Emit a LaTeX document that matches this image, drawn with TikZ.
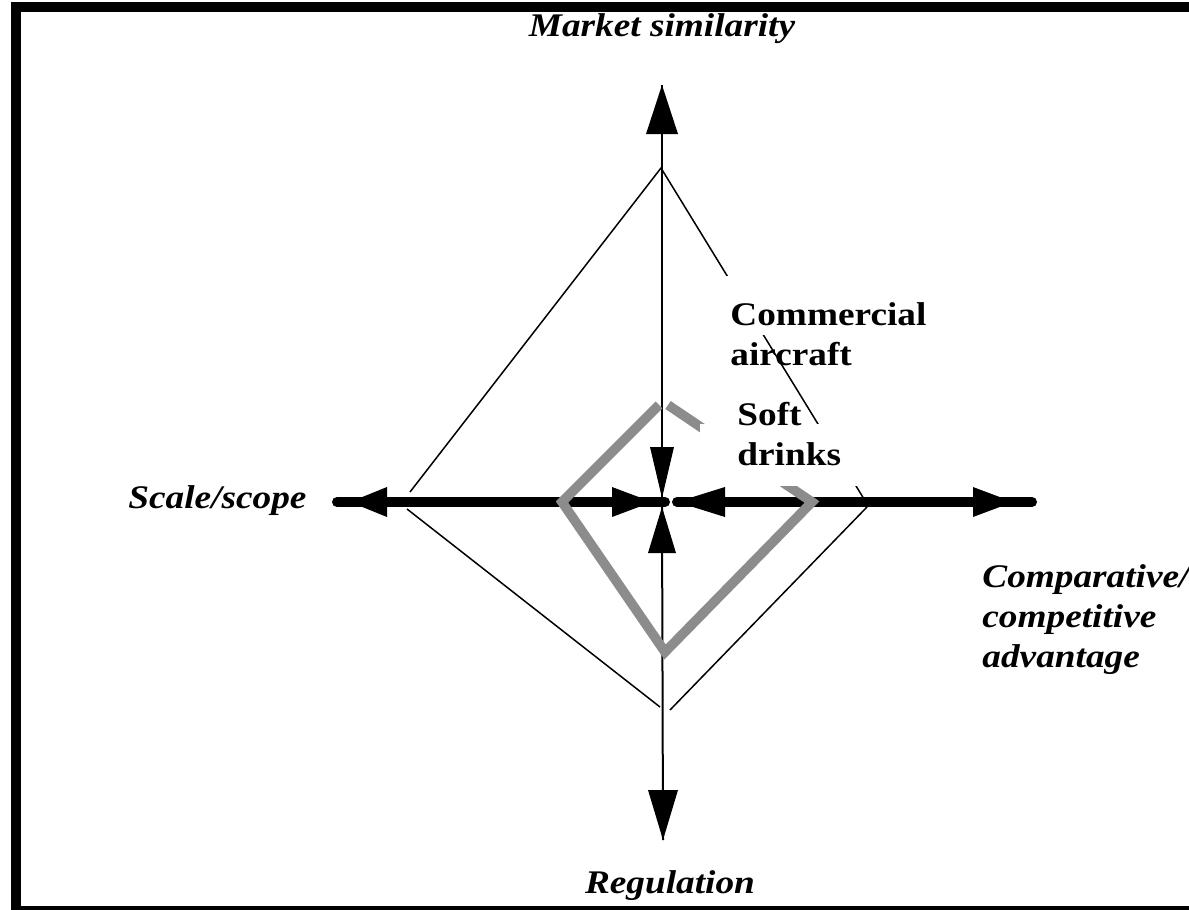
\documentclass[tikz,border=0pt]{standalone}
\usepackage{fontspec}
\setmainfont{Liberation Serif}[FakeStretch=1.13]
\definecolor{diagray}{RGB}{140,140,140}
\begin{document}
\begin{tikzpicture}[x=0.5pt,y=-0.5pt,
  frame/.style={line width=5pt},
  thinline/.style={line width=0.75pt},
  axisv/.style={line width=1pt},
  axish/.style={line width=5pt, line cap=round},
  head/.style={fill=black},
  graydia/.style={line width=4.8pt, draw=diagray, line join=miter},
  axlabel/.style={font=\fontsize{16.5}{20}\selectfont\bfseries\itshape, inner sep=0pt, align=left},
  itemlabel/.style={font=\fontsize{16.5}{20}\selectfont\bfseries, inner sep=0pt, align=left}]
\clip (0,0) rectangle (1189,910);
\fill[white] (0,0) rectangle (1189,910);
\draw[frame] (16,7) rectangle (1210,911);

% coordinates
\coordinate (T) at (661,168);
\coordinate (Lu) at (410,492);
\coordinate (Ld) at (407,509);
\coordinate (Bl) at (660,707);
\coordinate (Br) at (670,710);
\coordinate (Rd) at (867,507);
\coordinate (Ru) at (864,499);

% thin outer diamond
\draw[thinline] (Lu) -- (T) -- (Ru);
\draw[thinline] (Ld) -- (Bl);
\draw[thinline] (Br) -- (Rd);

% vertical axis
\coordinate (vtop) at (662,85);
\coordinate (vcu) at (662,498);
\coordinate (vcd) at (662,507);
\coordinate (vbot) at (663,840);
\draw[axisv] (vtop) -- (vcu);
\draw[axisv] (vcd) -- (vbot);
\fill[head] (vtop) -- ++(-16,49) -- ++(32,0) -- cycle;
\fill[head] (vcu) -- ++(-12,-51) -- ++(24,0) -- cycle;
\fill[head] (vcd) -- ++(-14,46) -- ++(28,0) -- cycle;
\fill[head] (vbot) -- ++(-15,-50) -- ++(30,0) -- cycle;

% horizontal axis
\coordinate (hl) at (337,502);
\coordinate (hcl) at (665,502);
\coordinate (hcr) at (677,502);
\coordinate (hr) at (1032,502);
\draw[axish] (hl) -- (hcl);
\draw[axish] (hcr) -- (hr);
\fill[head] (350,502) -- ++(37,-15) -- ++(0,30) -- cycle;
\fill[head] (652,502) -- ++(-40,-15) -- ++(0,30) -- cycle;
\fill[head] (hcr) -- ++(48,-15) -- ++(0,30) -- cycle;
\fill[head] (1013,502) -- ++(-40,-15) -- ++(0,30) -- cycle;

% gray inner diamond
\draw[graydia] (659,405) -- (562,502) -- (665,652) -- (812,502) -- (668,405);

% white text backgrounds
\fill[white] (714,276) rectangle (940,335);
\fill[white] (700,424) rectangle (862,486);

% labels
\node[axlabel, anchor=base] (ms) at (662,36) {Market similarity};
\node[axlabel, anchor=base west] (sc) at (128,508) {Scale/scope};
\node[axlabel, anchor=base west] (ca) at (982,667) {Comparative/\\competitive\\advantage};
\node[axlabel, anchor=base] (reg) at (670,893) {Regulation};
\node[itemlabel, anchor=base west] (com) at (730,365) {Commercial\\aircraft};
\node[itemlabel, anchor=base west] (soft) at (737,465) {Soft\\drinks};
\end{tikzpicture}
\end{document}
